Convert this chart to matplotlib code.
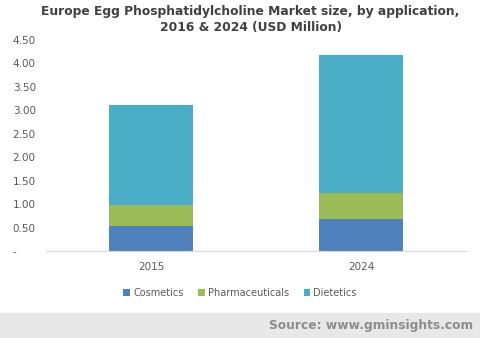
import matplotlib.pyplot as plt
from matplotlib.ticker import FuncFormatter
import numpy as np

years = ["2015", "2024"]
cosmetics = [0.53, 0.68]
pharmaceuticals = [0.45, 0.55]
dietetics = [2.13, 2.94]

colors = ["#4f81bd", "#9bbb59", "#4bacc6"]
labels = ["Cosmetics", "Pharmaceuticals", "Dietetics"]

fig = plt.figure(figsize=(4.8, 3.38), dpi=100)
ax = fig.add_axes([0.096, 0.257, 0.875, 0.625])

x = np.arange(len(years))
bottom = np.zeros(len(years))
for vals, c, lab in zip([cosmetics, pharmaceuticals, dietetics], colors, labels):
    ax.bar(x, vals, width=0.4, bottom=bottom, color=c, label=lab)
    bottom += np.array(vals)

ax.set_xlim(-0.5, 1.5)
ax.set_ylim(0, 4.5)
ax.set_yticks(np.arange(0, 4.51, 0.5))
ax.yaxis.set_major_formatter(FuncFormatter(lambda v, p: "-" if v == 0 else f"{v:.2f}"))
ax.set_xticks(x)
ax.set_xticklabels(years)
ax.tick_params(axis="both", length=0, labelsize=7.5, colors="#595959")
ax.tick_params(axis="x", pad=8)
ax.tick_params(axis="y", pad=24)
for lbl in ax.get_yticklabels():
    lbl.set_horizontalalignment("left")
for s in ["top", "right", "left"]:
    ax.spines[s].set_visible(False)
ax.spines["bottom"].set_color("#d9d9d9")

fig.text(0.522, 0.943, "Europe Egg Phosphatidylcholine Market size, by application,\n2016 & 2024 (USD Million)",
         ha="center", va="center", fontsize=8.8, fontweight="bold", color="#404040", linespacing=1.3)

fig.legend(loc="center", bbox_to_anchor=(0.5, 0.133), ncol=3, frameon=False, fontsize=7,
           handlelength=0.7, handleheight=0.7, handletextpad=0.3, columnspacing=1.5,
           labelcolor="#595959")

fig.patches.append(plt.Rectangle((0, 0), 1, 0.074, transform=fig.transFigure, color="#e8e8e8", zorder=0))
fig.text(0.985, 0.036, "Source: www.gminsights.com", ha="right", va="center", fontsize=8.8,
         fontweight="bold", color="#8c8c8c")

fig.savefig("out.png", dpi=100)
